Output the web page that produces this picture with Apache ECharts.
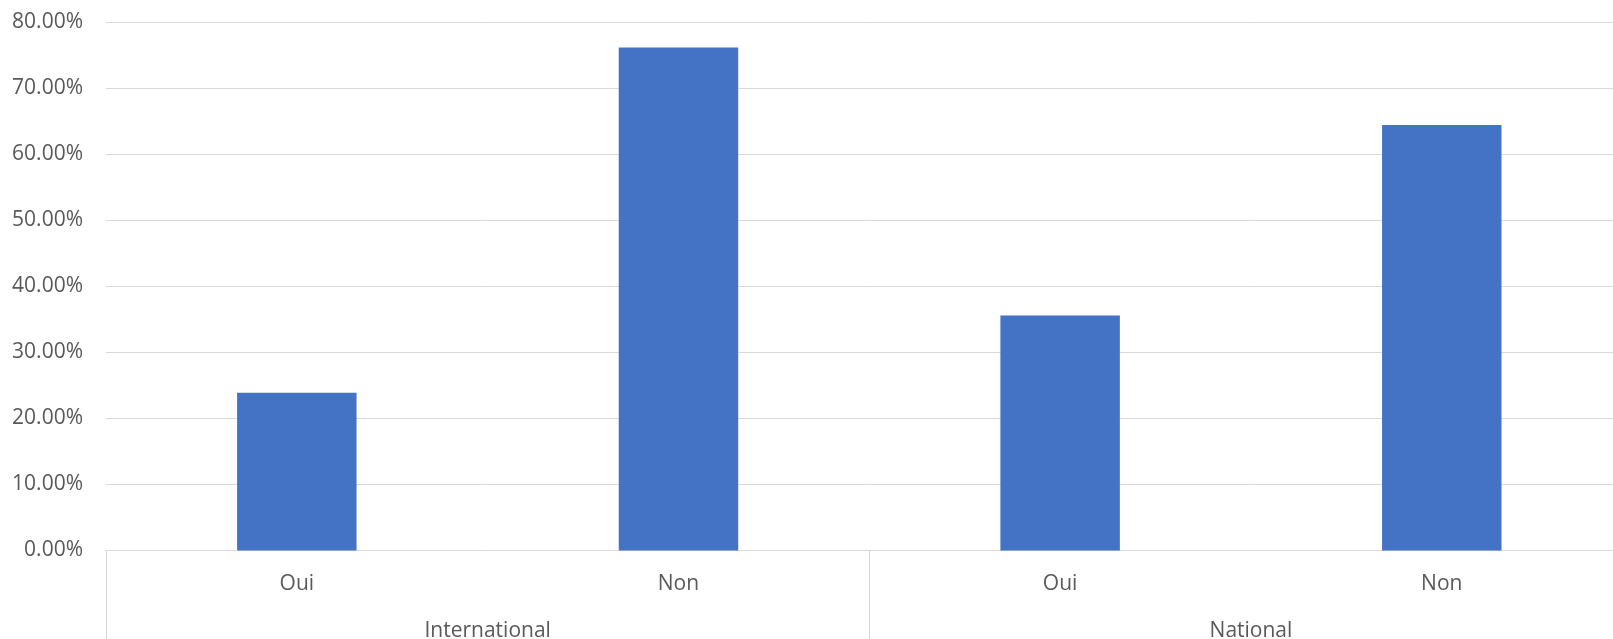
<!DOCTYPE html>
<html>
<head>
<meta charset="utf-8">
<script src="https://cdn.jsdelivr.net/npm/echarts@6/dist/echarts.min.js"></script>
<style>
html,body{margin:0;padding:0;background:#fff;overflow:hidden;}
#chart{width:1650px;height:639px;}
</style>
</head>
<body>
<div id="chart"></div>
<script>
const categories = ['Oui', 'Non', 'Oui', 'Non'];
const groups = ['International', 'National'];
const values = [23.87, 76.13, 35.58, 64.42];
const yMin = 0, yMax = 80, yStep = 10;

const chart = echarts.init(document.getElementById('chart'));
const textColor = '#595959';
const lineColor = '#d9d9d9';
const font = 'Open Sans';
chart.setOption({
  animation: false,
  grid: { left: 106, top: 22, width: 1526.6, height: 528.5, containLabel: false, outerBoundsMode: 'none' },
  xAxis: [
    {
      type: 'category',
      data: categories,
      position: 'bottom',
      axisLine: { show: true, lineStyle: { color: lineColor, width: 1 } },
      axisTick: { show: false },
      axisLabel: { color: textColor, fontSize: 21, fontFamily: font, margin: 23, interval: 0 },
      splitLine: { show: false }
    },
    {
      type: 'category',
      data: groups,
      position: 'bottom',
      offset: 0,
      axisLine: { show: false },
      axisTick: { show: true, length: 100, interval: 0, lineStyle: { color: lineColor, width: 1 } },
      axisLabel: { color: textColor, fontSize: 21, fontFamily: font, margin: 70, interval: 0 },
      splitLine: { show: false }
    }
  ],
  yAxis: {
    type: 'value',
    min: yMin, max: yMax, interval: yStep,
    axisLine: { show: false },
    axisTick: { show: false },
    axisLabel: { color: textColor, fontSize: 21, fontFamily: font, margin: 23,
      formatter: v => v.toFixed(2) + '%' },
    splitLine: { show: true, lineStyle: { color: lineColor, width: 1 } }
  },
  series: [{
    type: 'bar',
    xAxisIndex: 0,
    data: values,
    barWidth: '31.3%',
    itemStyle: { color: '#4472c4' }
  }]
});
</script>
</body>
</html>
